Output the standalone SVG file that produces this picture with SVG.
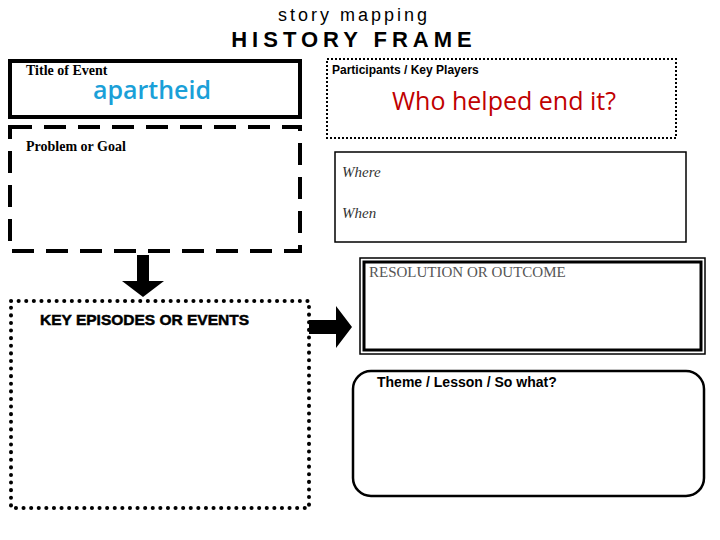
<svg xmlns="http://www.w3.org/2000/svg" width="720" height="540" viewBox="0 0 720 540">
<style>
.ser{font-family:"Liberation Serif",serif;font-weight:bold;font-size:14px;fill:#000}
.sans{font-family:"Liberation Sans",Arial,sans-serif;fill:#000}
.blue{font-family:"Open Sans","Liberation Sans",sans-serif;fill:#1aa0d8;font-weight:600}
</style>
<rect width="720" height="540" fill="#fff"/>
<text class="sans" x="354" y="21" font-size="18" letter-spacing="3" text-anchor="middle">story mapping</text>
<text class="sans" x="354" y="47" font-size="22" font-weight="bold" letter-spacing="5" text-anchor="middle">HISTORY FRAME</text>
<g id="title">
<rect x="10" y="61" width="290" height="56" fill="none" stroke="#000" stroke-width="4"/>
<text class="ser" x="26" y="75">Title of Event</text>
<text class="blue" x="152" y="99" font-size="25" text-anchor="middle">apartheid</text>
</g>
<g id="participants">
<rect x="327" y="59" width="349" height="79" fill="none" stroke="#000" stroke-width="2" stroke-dasharray="2 2"/>
<text class="sans" x="332" y="74" font-size="12" font-weight="bold">Participants  / Key Players</text>
<text x="504" y="110" font-family="Open Sans,Liberation Sans,sans-serif" font-size="25" fill="#c00000" text-anchor="middle">Who helped end it?</text>
</g>
<g id="problem">
<rect x="10" y="127" width="290" height="124" fill="none" stroke="#000" stroke-width="4" stroke-dasharray="22 12"/>
<text class="ser" x="26" y="151">Problem or Goal</text>
</g>
<g id="where">
<rect x="335" y="152" width="351" height="90" fill="none" stroke="#000" stroke-width="1.5"/>
<text x="342" y="177" font-family="Liberation Serif,serif" font-style="italic" font-size="15" fill="#333">Where</text>
<text x="342" y="218" font-family="Liberation Serif,serif" font-style="italic" font-size="15" fill="#333">When</text>
</g>
<g id="episodes">
<rect x="11" y="301" width="298" height="207" fill="none" stroke="#000" stroke-width="4" stroke-dasharray="0.1 7.5" stroke-linecap="round"/>
<text x="40" y="325" font-family="Liberation Sans,sans-serif" font-weight="bold" font-size="15.5" fill="#000" stroke="#000" stroke-width="0.5">KEY EPISODES OR EVENTS</text>
</g>
<g id="resolution">
<rect x="360" y="258" width="345" height="96" fill="none" stroke="#000" stroke-width="1.5"/>
<rect x="364" y="262" width="337" height="88" fill="none" stroke="#000" stroke-width="3"/>
<text x="369" y="277" font-family="Liberation Serif,serif" font-size="15" fill="#555">RESOLUTION OR OUTCOME</text>
</g>
<g id="theme">
<rect x="353" y="371" width="351" height="125" rx="18" fill="none" stroke="#000" stroke-width="2.5"/>
<text class="sans" x="377" y="387" font-size="14" font-weight="bold">Theme / Lesson / So what?</text>
</g>
<g id="connectors">
<polygon points="137,255 149,255 149,281 164,281 143,297 122,281 137,281"/>
<polygon points="309,320 336,320 336,306 352,327 336,348 336,334 309,334"/>
</g>
</svg>
